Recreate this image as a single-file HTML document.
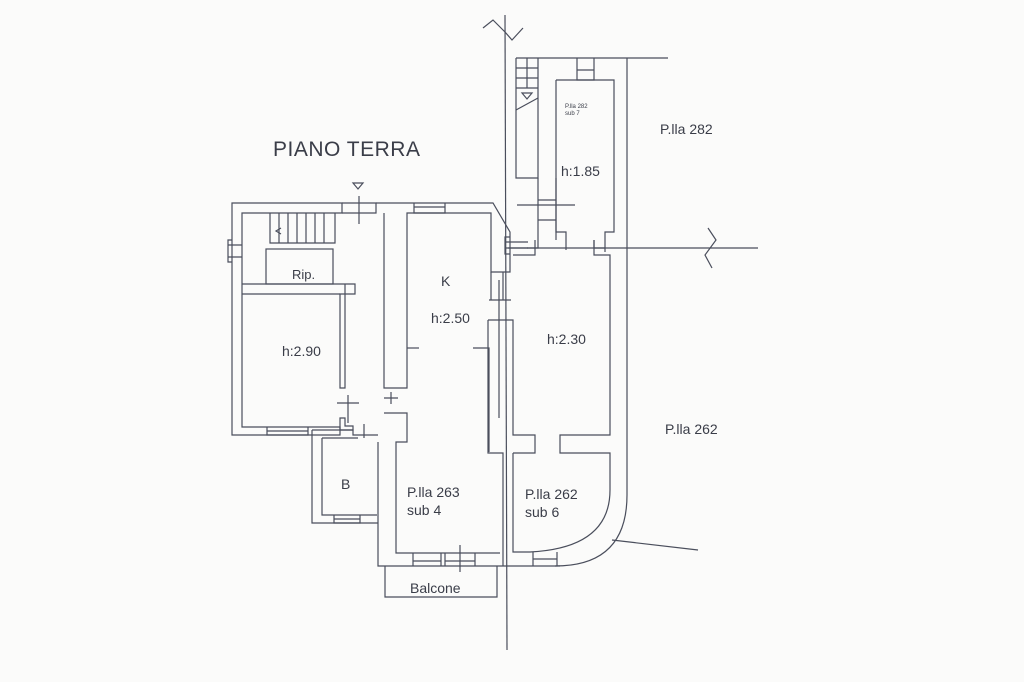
<!DOCTYPE html>
<html><head><meta charset="utf-8"><style>
html,body{margin:0;padding:0;background:#fbfbfa;}
svg{display:block}
text{font-family:"Liberation Sans",sans-serif;fill:#3a3d48}
</style></head><body>
<svg width="1024" height="682" viewBox="0 0 1024 682" xmlns="http://www.w3.org/2000/svg">
<rect width="1024" height="682" fill="#fbfbfa"/>
<g fill="none" stroke="#4a4e5c" stroke-width="1.2">
<path d="M505 15 L507 650"/>
<path d="M483 28 L493 20 L505 32 L512 40 L523 28"/>
<path d="M627 58 L668 58"/>
<path d="M508 248 L758 248"/>
<path d="M708 228 L716 240 L705 255 L712 268"/>
<path d="M612 540 L698 550"/>

<path d="M232 203 L342 203 L342 213 L242 213 L242 427 L340 427 L340 435 L232 435 Z"/>
<path d="M232 240 h-4 v22 h4 M228 245 h14 M228 257 h14"/>
<path d="M267 427 v8 h41 v-8 M267 431 h41"/>
<path d="M270 213 V243 H335 V213"/>
<path d="M279 213v30 M288 213v30 M297 213v30 M306 213v30 M315 213v30 M324 213v30"/>
<path d="M281 228 l-5 3 l5 3"/>
<rect x="266" y="249" width="67" height="35"/>
<path d="M242 284 H355 V294 H340 V388 H345 V284"/>
<path d="M242 294 H340"/>
<path d="M337 403 h22 M348 395 v28"/>
<path d="M340 418 h5 v8 h8 v4 h-13 z"/>
<path d="M342 203 H376 V213 H342 M359 196 v28"/>
<path d="M353 183 h10 l-5 6 z"/>
<path d="M376 203 H493 L510 232 V272 H491 V213 H407 V388 H384 V213"/>
<path d="M414 203 v10 h31 v-10 M414 207 h31"/>
<path d="M510 237 h-5 v17 h5 M505 242 h23 M505 248 h23"/>
<path d="M384 398 h14 M391 392 v12"/>
<path d="M384 413 H407 V442 H396 V553 H500"/>
<path d="M407 348 h12"/>
<path d="M473 348 h16 V452 M489 300 h22 M499 280 V418"/>
<path d="M491 272 V300 M503 272 V300"/>
<path d="M378 442 V566 H560"/>
<path d="M413 553 v13 M441 553 v13 M445 553 v13 M475 553 v13 M413 561 h28 M445 561 h30 M460 545 v27"/>
<path d="M385 566 V597 H497 V566"/>
<path d="M312 430 H353 V435 H378 M312 430 V523 H378 M322 438 V515 H377 M322 438 H358 M364 424 v14"/>
<path d="M334 515 v8 h26 v-8 M334 519 h26"/>
<path d="M488 320 V453 H503 V566 M513 453 V552 H530 Q610 548 610 490 V453 H560 V435 H610 V255 H594 V240"/>
<path d="M488 320 H513 V435 H535 V453 H513"/>
<path d="M513 255 H535 V240"/>
<path d="M627 58 V495 Q627 566 555 566"/>
<path d="M533 552 v14 M557 552 v14 M533 559 h24"/>
<path d="M516 58 H627 M516 58 V178 H538 V58"/>
<path d="M516 68 h22 M516 78 h22 M516 88 h22 M527 58 v30"/>
<path d="M522 93 h10 l-5 6 z M516 110 L538 98"/>
<path d="M577 58 V80 H594 V58 M577 70 h17"/>
<path d="M556 80 H614 V232 H605 V252 M556 80 V232 H566 V250"/>
<path d="M538 178 V240 M556 178 V240 M538 200 h18 M538 220 h18 M517 205 h58"/>
<path d="M527 248 H538 V240 M594 240 V248 H605"/>
</g>
<text x="273" y="156" font-size="21" letter-spacing="0.5">PIANO TERRA</text>
<text x="292" y="279" font-size="13">Rip.</text>
<text x="441" y="286" font-size="14">K</text>
<text x="431" y="323" font-size="14">h:2.50</text>
<text x="282" y="356" font-size="14">h:2.90</text>
<text x="547" y="344" font-size="14">h:2.30</text>
<text x="341" y="489" font-size="14">B</text>
<text x="407" y="497" font-size="14">P.lla 263</text>
<text x="407" y="515" font-size="14">sub 4</text>
<text x="525" y="499" font-size="14">P.lla 262</text>
<text x="525" y="517" font-size="14">sub 6</text>
<text x="410" y="593" font-size="14">Balcone</text>
<text x="561" y="176" font-size="14">h:1.85</text>
<text x="565" y="108" font-size="6">P.lla 282</text>
<text x="565" y="115" font-size="6">sub 7</text>
<text x="660" y="134" font-size="14">P.lla 282</text>
<text x="665" y="434" font-size="14">P.lla 262</text>
</svg>
</body></html>
